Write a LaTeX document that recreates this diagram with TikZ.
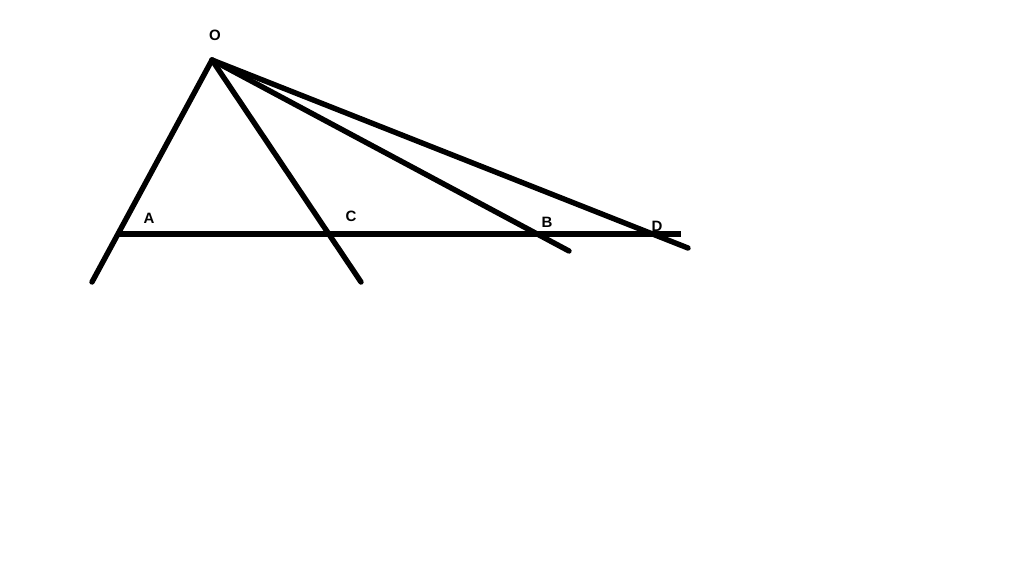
\documentclass[tikz,border=0pt]{standalone}
\usepackage{fontspec}
\setmainfont{Liberation Sans}
\begin{document}
\begin{tikzpicture}[x=0.5pt,y=-0.5pt,
  seg/.style={line width=2.7pt,line cap=round},
  lbl/.style={font=\fontsize{7.5pt}{8pt}\selectfont\bfseries,inner sep=0pt}]
\useasboundingbox (0,0) rectangle (1024,575);
\coordinate (O) at (212,60);
\coordinate (E1) at (92,282);
\coordinate (E2) at (361,282);
\coordinate (E3) at (569,251);
\coordinate (E4) at (688,248);
\coordinate (H1) at (118,234);
\coordinate (H2) at (681,234);
\draw[seg] (O) -- (E1);
\draw[seg] (O) -- (E2);
\draw[seg] (O) -- (E3);
\draw[seg] (O) -- (E4);
\draw[seg,line cap=butt] (H1) -- (H2);
\node[lbl] (lO) at (215,35) {O};
\node[lbl] (lA) at (149,218) {A};
\node[lbl] (lC) at (351,216) {C};
\node[lbl] (lB) at (547,222) {B};
\node[lbl] (lD) at (657,226) {D};
\end{tikzpicture}
\end{document}
